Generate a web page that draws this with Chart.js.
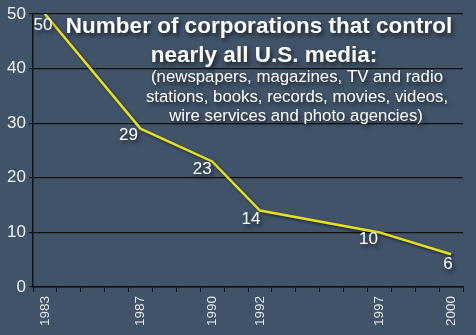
<!DOCTYPE html>
<html>
<head>
<meta charset="utf-8">
<script src="https://cdn.jsdelivr.net/npm/chart.js@4"></script>
<style>
  html, body { margin: 0; padding: 0; background: #405369; }
  canvas { display: block; }
</style>
</head>
<body>
<canvas id="lineChart" width="476" height="335"></canvas>
<script>
var years = [1983, 1987, 1990, 1992, 1997, 2000];
var corporations = [50, 29, 23, 14, 10, 6];
var yTicks = [0, 10, 20, 30, 40, 50];
var titleLines = ['Number of corporations that control', 'nearly all U.S. media:'];
var subtitleLines = ['(newspapers, magazines, TV and radio', 'stations, books, records, movies, videos,', 'wire services and photo agencies)'];

// one category per year so tick marks fall on every year
var allYears = [];
for (var yr = years[0]; yr <= years[years.length - 1]; yr++) {
    allYears.push(String(yr));
}

var points = years.map(function(y, i) {
    return { x: String(y), y: corporations[i] };
});

// label offsets from each point, in pixels
var labelOffsets = [[-2, 11], [-12, 7], [-10, 8], [-9, 9], [-11, 7], [-3, 10]];

var textPlugin = {
    id: 'textPlugin',
    beforeDatasetsDraw: function(chart) {
        var ctx = chart.ctx;
        ctx.save();
        ctx.shadowColor = 'rgba(0,0,0,0.5)';
        ctx.shadowBlur = 3;
        ctx.shadowOffsetX = 2;
        ctx.shadowOffsetY = 2;
    },
    afterDatasetsDraw: function(chart) {
        var ctx = chart.ctx;
        ctx.restore();

        ctx.save();
        ctx.fillStyle = '#ffffff';
        ctx.shadowColor = 'rgba(0,0,0,0.6)';
        ctx.shadowBlur = 4;
        ctx.shadowOffsetX = 2;
        ctx.shadowOffsetY = 3;
        ctx.textAlign = 'center';
        ctx.textBaseline = 'alphabetic';

        ctx.font = 'bold 22.5px Arial, "Liberation Sans", sans-serif';
        ctx.fillText(titleLines[0], 259, 33);
        ctx.fillText(titleLines[1], 264, 62);

        ctx.font = '16.8px Arial, "Liberation Sans", sans-serif';
        ctx.fillText(subtitleLines[0], 297, 82);
        ctx.fillText(subtitleLines[1], 297, 102);
        ctx.fillText(subtitleLines[2], 296, 121);

        ctx.font = '17px Arial, "Liberation Sans", sans-serif';
        ctx.textBaseline = 'middle';
        var meta = chart.getDatasetMeta(0);
        meta.data.forEach(function(pt, i) {
            var off = labelOffsets[i];
            ctx.fillText(String(corporations[i]), pt.x + off[0], pt.y + off[1]);
        });
        ctx.restore();
    }
};

var ctx = document.getElementById('lineChart').getContext('2d');

var myChart = new Chart(ctx, {
    type: 'line',
    data: {
        labels: allYears,
        datasets: [{
            data: points,
            borderColor: '#e6e01e',
            borderWidth: 2.5,
            pointRadius: 0,
            tension: 0,
            fill: false
        }]
    },
    options: {
        responsive: false,
        animation: false,
        devicePixelRatio: 1,
        layout: { padding: { top: 14, right: 13, left: 0, bottom: 0 } },
        plugins: {
            legend: { display: false },
            tooltip: { enabled: false }
        },
        scales: {
            x: {
                offset: true,
                grid: {
                    offset: true,
                    drawOnChartArea: false,
                    drawTicks: true,
                    tickLength: 5,
                    color: '#111111',
                    lineWidth: 1
                },
                border: { color: '#111111', width: 1.5 },
                ticks: {
                    autoSkip: false,
                    maxRotation: 90,
                    minRotation: 90,
                    padding: 4,
                    color: '#e4e6ea',
                    font: { family: 'Arial, "Liberation Sans", sans-serif', size: 13.5 },
                    callback: function(value) {
                        var lbl = this.getLabelForValue(value);
                        return years.indexOf(Number(lbl)) >= 0 ? lbl : '';
                    }
                },
                afterFit: function(scale) { scale.height = 48; }
            },
            y: {
                min: yTicks[0],
                max: yTicks[yTicks.length - 1],
                afterBuildTicks: function(scale) {
                    scale.ticks = yTicks.map(function(v) { return { value: v }; });
                },
                grid: {
                    color: '#111111',
                    lineWidth: 1.2,
                    drawTicks: true,
                    tickLength: 4
                },
                border: { color: '#111111', width: 1.5 },
                ticks: {
                    padding: 3,
                    color: '#eef0f2',
                    font: { family: 'Arial, "Liberation Sans", sans-serif', size: 17 }
                },
                afterFit: function(scale) { scale.width = 33; }
            }
        }
    },
    plugins: [textPlugin]
});
</script>
</body>
</html>
